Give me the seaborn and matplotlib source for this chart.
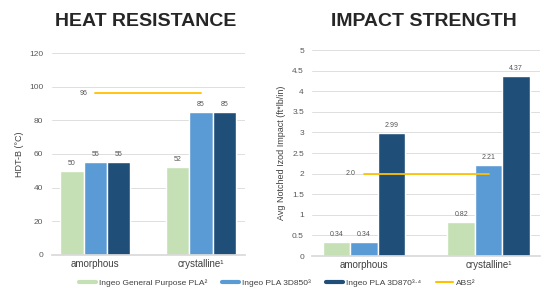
import matplotlib
matplotlib.use("Agg")
import matplotlib.pyplot as plt
import numpy as np
import pandas as pd
import seaborn as sns
from matplotlib.lines import Line2D

categories = ["amorphous", "crystalline¹"]
materials = ["Ingeo General Purpose PLA²", "Ingeo PLA 3D850³", "Ingeo PLA 3D870³·⁴"]
abs_name = "ABS²"

heat_values = {
    "Ingeo General Purpose PLA²": [50, 52],
    "Ingeo PLA 3D850³": [55, 85],
    "Ingeo PLA 3D870³·⁴": [55, 85],
}
heat_abs = [96, 96]

impact_values = {
    "Ingeo General Purpose PLA²": [0.34, 0.82],
    "Ingeo PLA 3D850³": [0.34, 2.21],
    "Ingeo PLA 3D870³·⁴": [2.99, 4.37],
}
impact_abs = [2.0, 2.0]

colors = ["#c5e0b4", "#5b9bd5", "#1f4e79"]
abs_color = "#ffc000"

sns.set_theme(style="white")
plt.rcParams["font.family"] = ["Liberation Sans", "DejaVu Sans"]


def to_frame(values):
    rows = []
    for m in materials:
        for c, v in zip(categories, values[m]):
            rows.append({"category": c, "material": m, "value": v})
    return pd.DataFrame(rows)


def draw(ax, values, abs_vals, ymax, step, ylabel, fmt, abs_fmt):
    df = to_frame(values)
    sns.barplot(data=df, x="category", y="value", hue="material", hue_order=materials,
                palette=colors, width=0.66, gap=0, ax=ax, legend=False, saturation=1)
    for cont in ax.containers:
        ax.bar_label(cont, fmt=fmt, padding=3, fontsize=5, color="#555555")
    xs = np.arange(len(categories))
    ax.plot(xs, abs_vals, color=abs_color, lw=1.3, zorder=5)
    ax.annotate(abs_fmt.format(abs_vals[0]), (xs[0], abs_vals[0]), xytext=(-6, 0),
                textcoords="offset points", ha="right", va="center", fontsize=5,
                color="#555555")
    ax.set_ylim(0, ymax)
    ticks = np.arange(0, ymax + step / 2, step)
    ax.set_yticks(ticks)
    ax.set_yticklabels([f"{t:g}" for t in ticks])
    ax.yaxis.grid(True, color="#d9d9d9", lw=0.6)
    ax.set_axisbelow(True)
    for s in ["top", "right", "left"]:
        ax.spines[s].set_visible(False)
    ax.spines["bottom"].set_color("#d9d9d9")
    ax.tick_params(axis="y", labelsize=6, colors="#595959", length=0, pad=6)
    ax.tick_params(axis="x", labelsize=7, colors="#404040", length=0, pad=3)
    ax.set_xlabel("")
    ax.set_ylabel(ylabel, fontsize=6.5, color="#404040")


fig = plt.figure(figsize=(5.44, 2.93), dpi=100)
ax1 = fig.add_axes([0.095, 0.130, 0.355, 0.689])
ax2 = fig.add_axes([0.574, 0.126, 0.419, 0.703])

draw(ax1, heat_values, heat_abs, 120, 20, "HDT-B (°C)", "%g", "{:g}")
draw(ax2, impact_values, impact_abs, 5, 0.5, "Avg Notched Izod Impact (ft*lb/in)",
     "%.2f", "{:.1f}")

fig.text(0.268, 0.925, "HEAT RESISTANCE", ha="center", va="center",
         fontsize=14, fontweight="bold", color="#262626")
fig.text(0.78, 0.925, "IMPACT STRENGTH", ha="center", va="center",
         fontsize=14, fontweight="bold", color="#262626")

handles = [Line2D([], [], color=c, lw=3) for c in colors] + [Line2D([], [], color=abs_color, lw=1.5)]
fig.legend(handles, materials + [abs_name], loc="center", bbox_to_anchor=(0.51, 0.035),
           ncol=4, frameon=False, fontsize=6, handlelength=2, columnspacing=1.8,
           handletextpad=0.4, labelcolor="#404040")

fig.savefig("out.png", dpi=100, facecolor="white")
